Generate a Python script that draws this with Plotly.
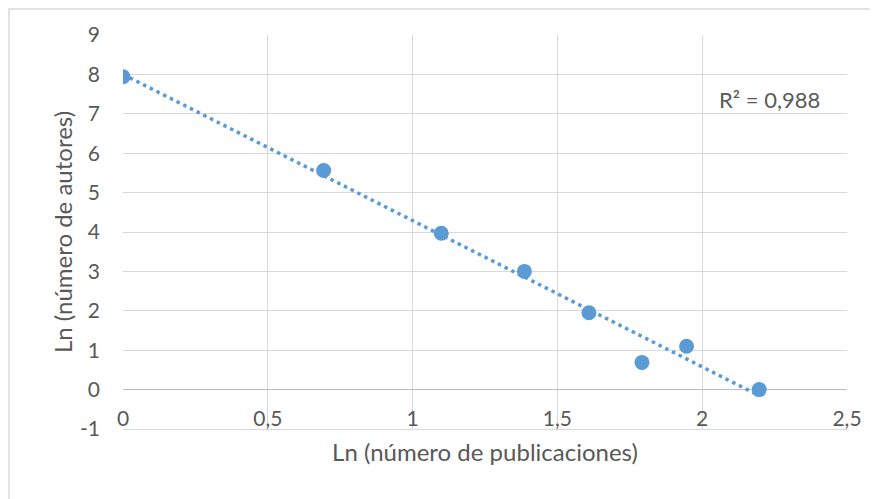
import numpy as np
import plotly.graph_objects as go

# Data (natural logs)
ln_publicaciones = [0.0, 0.693, 1.099, 1.386, 1.609, 1.792, 1.946, 2.197]
ln_autores = [7.94, 5.56, 3.97, 3.0, 1.95, 0.69, 1.10, 0.0]
r2_label = "R² = 0,988"
x_ticks = [0, 0.5, 1, 1.5, 2, 2.5]
y_ticks = [-1, 0, 1, 2, 3, 4, 5, 6, 7, 8, 9]
y_tick_text = ["-1", "0", "1", "2", "3", "4", "5", "6", "7", "8", "9"]

blue = "#5B9BD5"
grid = "#D9D9D9"
txt = "#595959"
font_family = "Lato, 'Open Sans', sans-serif"

# linear trend line fitted to the data
slope, intercept = np.polyfit(ln_publicaciones, ln_autores, 1)
tx = [min(ln_publicaciones), max(ln_publicaciones)]
ty = [intercept + slope * v for v in tx]

fig = go.Figure()
fig.add_trace(go.Scatter(
    x=tx, y=ty, mode="lines",
    line=dict(color=blue, width=3.5, dash="3.5px,4px"),
    hoverinfo="skip", showlegend=False,
))
fig.add_trace(go.Scatter(
    x=ln_publicaciones, y=ln_autores, mode="markers",
    marker=dict(color=blue, size=15, line=dict(width=0)),
    showlegend=False,
))

fig.add_annotation(
    x=0.893, y=0.837, xref="paper", yref="paper",
    text=r2_label, showarrow=False,
    font=dict(family=font_family, size=22, color=txt),
    xanchor="center", yanchor="middle",
)

# outer chart border (figure-edge frame; right and bottom sides off-page)
fig.add_shape(
    type="rect", xref="paper", yref="paper",
    x0=-0.1575, x1=1.2, y0=-0.3, y1=1.066,
    line=dict(color=grid, width=1.5), fillcolor="rgba(0,0,0,0)",
    layer="below",
)

fig.update_layout(
    width=878, height=499,
    margin=dict(l=115, r=39, t=27, b=78),
    paper_bgcolor="white", plot_bgcolor="white",
    separators=",.",
    font=dict(family=font_family, color=txt, size=21),
    xaxis=dict(
        range=[0, 2.5], tickvals=x_ticks,
        showgrid=True, gridcolor=grid, gridwidth=1.3,
        zeroline=False, showline=True, linecolor=grid, linewidth=1.3,
        mirror=False, ticks="",
        ticklabelstandoff=-29,
        ticklabeloverflow="allow",
        tickfont=dict(size=21, color=txt),
        title=dict(text="Ln (número de publicaciones)", font=dict(size=24, color=txt), standoff=14),
        automargin=False,
    ),
    yaxis=dict(
        range=[-1, 9], tickvals=y_ticks, ticktext=y_tick_text,
        showgrid=True, gridcolor=grid, gridwidth=1.3,
        zeroline=True, zerolinecolor="#BFBFBF", zerolinewidth=1.3,
        showline=False, ticks="",
        ticklabelstandoff=22,
        tickfont=dict(size=21, color=txt),
        title=dict(text="Ln (número de autores)", font=dict(size=24, color=txt), standoff=0),
        automargin=False,
    ),
)

fig.write_html("out.html")
